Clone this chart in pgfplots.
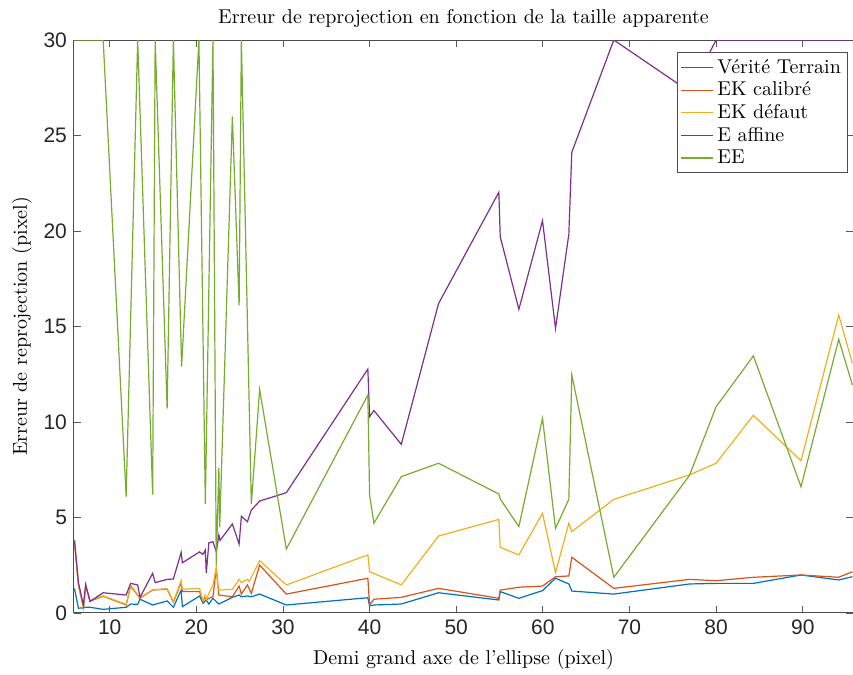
\documentclass[border=0pt]{standalone}
\usepackage{fontspec}
\usepackage{pgfplots}
\pgfplotsset{compat=1.18}
\newfontfamily\tickfont{Liberation Sans}
\definecolor{cA}{rgb}{0,0.447,0.741}
\definecolor{cB}{rgb}{0.85,0.325,0.098}
\definecolor{cC}{rgb}{0.929,0.694,0.125}
\definecolor{cD}{rgb}{0.494,0.184,0.556}
\definecolor{cE}{rgb}{0.466,0.674,0.188}
\begin{document}
\begin{tikzpicture}
\begin{axis}[
  scale only axis, width=389.5pt, height=286.5pt,
  xmin=5.88, xmax=95.8, ymin=0, ymax=30,
  xtick={10,20,...,90}, ytick={0,5,...,30},
  tick align=inside, major tick length=3.5pt,
  tick style={color=black!65, line width=0.4pt},
  axis line style={black!70, line width=0.5pt},
  ticklabel style={font=\fontsize{10.5}{12}\tickfont, text=black!85},
  /pgf/number format/assume math mode=true,
  title={Erreur de reprojection en fonction de la taille apparente},
  title style={at={(axis description cs:0.5,1.016)}, anchor=center, yshift=0pt, font=\fontsize{10}{12}\selectfont},
  xlabel={Demi grand axe de l'ellipse (pixel)},
  xlabel style={at={(axis description cs:0.5,-0.082)}, anchor=center, font=\fontsize{10}{12}\selectfont},
  ylabel={Erreur de reprojection (pixel)},
  ylabel style={at={(axis description cs:-0.0668,0.5)}, anchor=center, font=\fontsize{10}{12}\selectfont},
  legend style={at={(axis description cs:0.9932,0.9785)}, anchor=north east, draw=black!70, line width=0.4pt,
    font=\fontsize{10}{11.7}\selectfont, cells={anchor=west}, inner sep=1.2pt, row sep=-1.2pt},
  legend image code/.code={\draw[#1, line width=0.6pt] (0pt,0pt) -- (16pt,0pt);},
  every axis plot/.append style={line width=0.6pt},
]
% Verite Terrain
\addplot[cA] coordinates {
(5.93,1.29) (6.39,0.25) (6.97,0.27) (7.23,0.3) (7.73,0.3) (9.25,0.19) (11.9,0.3) (12.42,0.47) (13.23,0.45) (13.5,0.72) (14.96,0.42) (16.63,0.63) (17.35,0.3) (18.25,1.2) (18.39,0.33) (20.38,0.89) (20.76,0.51) (21.15,0.68) (21.45,0.47) (21.92,0.77) (22.31,0.59) (22.6,0.47) (24.16,0.82) (24.94,0.94) (25.2,0.85) (25.9,0.89) (26.35,0.85) (27.31,0.99) (30.39,0.42) (39.8,0.8) (40.0,0.37) (40.5,0.42) (43.66,0.47) (47.96,1.06) (54.92,0.68) (55.08,1.12) (57.23,0.77) (59.96,1.17) (61.46,1.82) (63.0,1.52) (63.34,1.15) (68.19,0.99) (76.92,1.52) (80.0,1.55) (84.3,1.55) (89.8,1.99) (94.15,1.73) (95.73,1.9)
};
\addlegendentry{Vérité Terrain}
% EK calibre
\addplot[cB] coordinates {
(5.93,3.8) (6.39,1.45) (6.97,0.3) (7.23,1.4) (7.73,0.62) (9.25,0.88) (11.9,0.42) (12.42,1.4) (13.5,0.78) (14.96,1.2) (16.63,1.25) (17.35,0.56) (18.25,1.6) (18.39,1.12) (20.38,1.12) (20.76,0.59) (21.0,0.85) (21.15,0.7) (21.45,0.77) (21.92,0.85) (22.31,2.34) (22.6,0.94) (24.16,0.85) (24.94,1.41) (25.2,0.99) (25.9,1.47) (26.35,1.03) (27.31,2.51) (30.39,0.99) (39.8,1.82) (40.0,0.42) (40.5,0.72) (43.66,0.82) (47.96,1.29) (54.92,0.77) (55.08,1.2) (57.23,1.35) (59.96,1.41) (61.46,1.9) (63.0,1.94) (63.34,2.92) (68.19,1.29) (76.92,1.76) (80.0,1.69) (84.3,1.87) (89.8,1.99) (94.15,1.87) (95.73,2.16)
};
\addlegendentry{EK calibré}
% EK defaut
\addplot[cC] coordinates {
(5.93,3.8) (6.39,1.5) (6.97,0.3) (7.23,1.42) (7.73,0.65) (9.25,0.9) (11.9,0.45) (12.42,1.45) (13.5,0.8) (14.96,1.22) (16.63,1.27) (17.35,0.59) (18.25,1.7) (18.39,1.24) (20.38,1.29) (20.76,0.64) (21.0,0.94) (21.15,0.72) (21.45,1.03) (21.92,1.47) (22.31,2.4) (22.5,1.24) (22.6,1.2) (24.16,1.24) (24.94,1.76) (25.2,1.59) (25.9,1.76) (26.1,1.65) (27.31,2.74) (30.39,1.47) (39.8,3.04) (40.0,2.16) (43.66,1.47) (47.96,4.03) (54.92,4.9) (55.08,3.44) (57.23,3.04) (59.96,5.22) (61.46,2.11) (63.0,4.7) (63.34,4.26) (68.19,5.95) (76.92,7.23) (80.0,7.84) (84.3,10.35) (89.8,7.97) (94.15,15.6) (95.73,13.07)
};
\addlegendentry{EK défaut}
% E affine
\addplot[cD] coordinates {
(5.93,3.8) (6.39,1.6) (6.97,0.4) (7.23,1.5) (7.73,0.6) (9.25,1.06) (11.9,0.94) (12.42,1.55) (13.23,1.47) (13.5,0.82) (14.96,2.08) (15.25,1.59) (16.63,1.76) (17.35,1.78) (18.25,3.17) (18.39,2.63) (20.38,3.2) (20.76,3.06) (21.04,3.3) (21.15,2.09) (21.45,3.68) (21.92,3.73) (22.31,3.21) (22.6,4.08) (22.74,3.8) (24.16,4.66) (24.94,3.61) (25.2,5.06) (25.9,4.78) (26.35,5.39) (27.31,5.86) (30.39,6.3) (39.8,12.77) (40.0,10.28) (40.5,10.6) (43.66,8.83) (47.96,16.2) (54.92,22.03) (55.08,19.7) (57.23,15.9) (59.96,20.54) (61.46,14.9) (63.0,19.84) (63.34,24.12) (68.19,30) (76.92,27.3) (80.0,30) (84.3,30) (89.8,30) (94.15,30) (95.73,30)
};
\addlegendentry{E affine}
% EE
\addplot[cE] coordinates {
(5.93,30) (9.25,30) (11.9,6.1) (13.23,30) (14.96,6.2) (15.25,30) (16.63,10.7) (17.35,30) (18.3,12.9) (20.3,30) (21.04,5.7) (21.92,30) (22.3,2.5) (22.6,7.6) (22.7,4.5) (24.16,26.0) (24.94,16.1) (25.2,30) (26.35,5.7) (27.31,11.7) (30.39,3.35) (39.8,11.41) (40.0,6.18) (40.5,4.7) (43.66,7.14) (47.96,7.84) (54.92,6.23) (55.08,5.97) (57.23,4.52) (59.96,10.19) (61.46,4.43) (63.0,5.95) (63.34,12.46) (68.19,1.87) (76.92,7.2) (80.0,10.8) (84.3,13.46) (89.8,6.61) (94.15,14.33) (95.73,11.94)
};
\addlegendentry{EE}
\end{axis}
\pgfresetboundingbox
\useasboundingbox ([xshift=-37pt,yshift=-31pt]current axis.south west) rectangle ([yshift=20pt]current axis.north east);
\end{tikzpicture}
\end{document}
